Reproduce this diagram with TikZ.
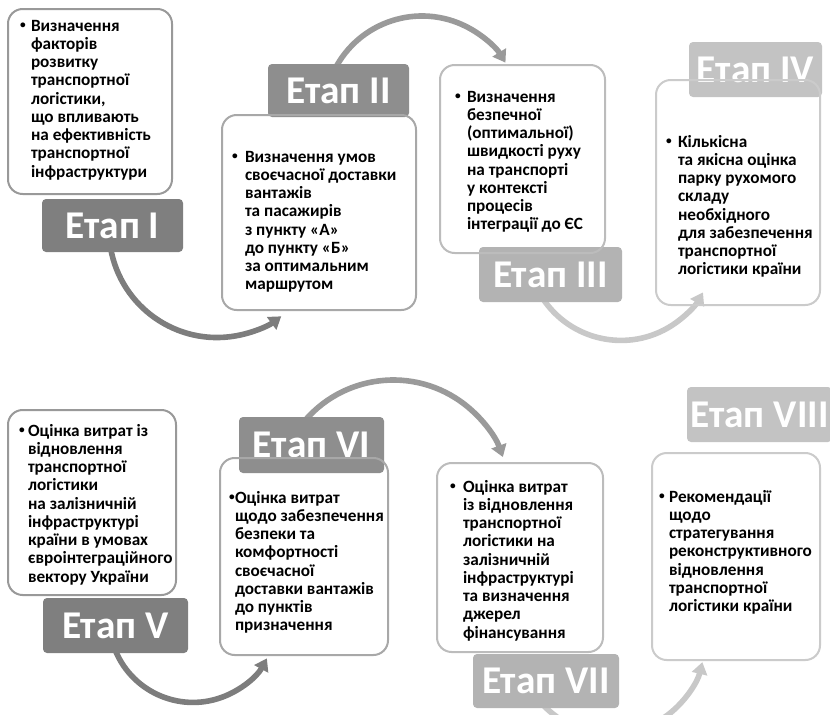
\documentclass[tikz,border=0pt]{standalone}
\usepackage{fontspec}
\setmainfont{Carlito}
\usetikzlibrary{arrows.meta}
\definecolor{lgA}{HTML}{7F7F7F}
\definecolor{lgB}{HTML}{8E8E8E}
\definecolor{lgC}{HTML}{B3B3B3}
\definecolor{lgD}{HTML}{C3C3C3}
\definecolor{arA}{HTML}{7D7D7D}
\definecolor{arB}{HTML}{9A9A9A}
\definecolor{arC}{HTML}{C8C8C8}
\definecolor{bdA}{HTML}{999999}
\definecolor{bdB}{HTML}{A8A8A8}
\definecolor{bdC}{HTML}{BCBCBC}
\definecolor{bdD}{HTML}{CBCBCB}
\newcommand\smbul{\raisebox{1.7pt}{\fontsize{8.5}{8.5}\selectfont\textbullet}}
\newcommand\bul[2]{\parbox[t]{300pt}{\fontsize{12.9}{13.7}\selectfont\bfseries\raggedright\let\\\newline\setlength{\hangindent}{#1pt}\hangindent=0.75\hangindent\hangafter=1\noindent\makebox[\hangindent][l]{\smbul}#2}}
\tikzset{
  boxfill/.style n args={2}{fill=white, draw=none, rounded corners=11pt, inner sep=0pt, outer sep=0pt,
    minimum width=#1*0.75pt, minimum height=#2*0.75pt},
  border/.style={line width=1.5pt, rounded corners=11pt},
  lab/.style n args={2}{rounded corners=3pt, inner sep=0pt, outer sep=0pt, text=white,
    font=\fontsize{29.5}{30}\selectfont\bfseries, minimum width=#1*0.75pt, minimum height=#2*0.75pt},
  arc/.style={line width=4.2pt, -{Triangle[length=9pt,width=11.5pt]}},
  txt/.style={anchor=base west, inner sep=0pt, outer sep=0pt, text=black}
}
\begin{document}
\begin{tikzpicture}[x=0.75pt,y=-0.75pt]
\useasboundingbox (0,0) rectangle (830,714);
\clip (0,0) rectangle (830,714);
% box fills
\node[boxfill={164}{185}] (b1) at (90,101.5) {};
\node[boxfill={194}{195}] (b2) at (319,212.5) {};
\node[boxfill={165}{188}] (b3) at (522.5,159) {};
\node[boxfill={164}{225}] (b4) at (738,192.5) {};
\node[boxfill={168}{185}] (b5) at (92,502.5) {};
\node[boxfill={168}{197}] (b6) at (304,556.5) {};
\node[boxfill={166}{189}] (b7) at (520,557.5) {};
\node[boxfill={168}{207}] (b8) at (736,556.5) {};
% arcs
\coordinate (c1) at (217,229.5);
\coordinate (c2) at (422,114);
\coordinate (c3) at (621,246.4);
\coordinate (c5) at (193,618.4);
\coordinate (c6) at (393.3,496.5);
\coordinate (c7) at (611,640);
\draw[arc, arA] (c1) ++(170:108) arc[start angle=170, end angle=53.5, radius=108];
\draw[arc, arB] (c2) ++(207:98) arc[start angle=207, end angle=328.4, radius=98];
\draw[arc, arC] (c3) ++(147:94) arc[start angle=147, end angle=29.3, radius=94];
\draw[arc, arA] (c5) ++(160:84) arc[start angle=160, end angle=28.4, radius=84];
\draw[arc, arB] (c6) ++(218:116.5) arc[start angle=218, end angle=340.2, radius=116.5];
\draw[arc, arC] (c7) ++(140:94) arc[start angle=140, end angle=13.6, radius=94];
% labels
\node[lab={141}{53}, fill=lgA] (l1) at (112.5,225.5) {Етап I};
\node[lab={141}{53}, fill=lgB] (l2) at (338.5,90.5) {Етап II};
\node[lab={143}{55}, fill=lgC] (l3) at (550.5,274.5) {Етап III};
\node[lab={133}{55}, fill=lgD] (l4) at (755.5,69.5) {Етап IV};
\node[lab={145}{55}, fill=lgA] (l5) at (115.5,625.5) {Етап V};
\node[lab={145}{56}, fill=lgB] (l6) at (311.5,445) {Етап VI};
\node[lab={146}{54}, fill=lgC] (l7) at (546,681) {Етап VII};
\node[lab={145}{55}, fill=lgD] (l8) at (759.5,414.5) {Етап VIII};
% borders
\draw[border, bdA] (b1.south west) rectangle (b1.north east);
\draw[border, bdB] (b2.south west) rectangle (b2.north east);
\draw[border, bdC] (b3.south west) rectangle (b3.north east);
\draw[border, bdD] (b4.south west) rectangle (b4.north east);
\draw[border, bdA] (b5.south west) rectangle (b5.north east);
\draw[border, bdB] (b6.south west) rectangle (b6.north east);
\draw[border, bdC] (b7.south west) rectangle (b7.north east);
\draw[border, bdD] (b8.south west) rectangle (b8.north east);
% texts
\node[txt] (t1) at (20,31) {\bul{11}{Визначення\\факторів\\розвитку\\транспортної\\логістики,\\що впливають\\на ефективність\\транспортної\\інфраструктури}};
\node[txt] (t2) at (232,162) {\bul{13}{Визначення умов\\своєчасної доставки\\вантажів\\та пасажирів\\з пункту «А»\\до пункту «Б»\\за оптимальним\\маршрутом}};
\node[txt] (t3) at (455,102) {\bul{12}{Визначення\\безпечної\\(оптимальної)\\швидкості руху\\на транспорті\\у контексті\\процесів\\інтеграції до ЄС}};
\node[txt] (t4) at (666,147) {\bul{12}{Кількісна\\та якісна оцінка\\парку рухомого\\складу\\необхідного\\для забезпечення\\транспортної\\логістики країни}};
\node[txt] (t5) at (19,436) {\bul{9}{Оцінка витрат із\\відновлення\\транспортної\\логістики\\на залізничній\\інфраструктурі\\країни в умовах\\євроінтеграційного\\вектору України}};
\node[txt] (t6) at (229,503) {\bul{6}{Оцінка витрат\\щодо забезпечення\\безпеки та\\комфортності\\своєчасної\\доставки вантажів\\до пунктів\\призначення}};
\node[txt] (t7) at (450,492) {\bul{13}{Оцінка витрат\\із відновлення\\транспортної\\логістики на\\залізничній\\інфраструктурі\\та визначення\\джерел\\фінансування}};
\node[txt] (t8) at (659,502) {\bul{10}{Рекомендації\\щодо\\стратегування\\реконструктивного\\відновлення\\транспортної\\логістики країни}};
\end{tikzpicture}
\end{document}
